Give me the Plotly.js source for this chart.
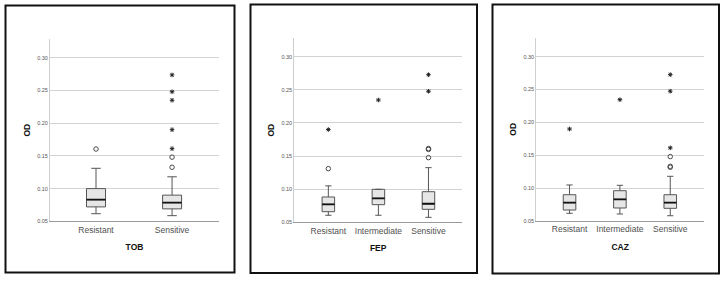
<!DOCTYPE html>
<html>
<head>
<meta charset="utf-8">
<script src="https://cdn.plot.ly/plotly-3.0.1.min.js"></script>
<style>html,body{margin:0;padding:0;background:#fff;}#chart{width:724px;height:282px;}</style>
</head>
<body>
<div id="chart"></div>
<script>
// ---------- DATA ----------
const tobCats = ['Resistant', 'Sensitive'];
const tobQ1 = [0.072, 0.069];
const tobMedian = [0.083, 0.0785];
const tobQ3 = [0.100, 0.090];
const tobLow = [0.0616, 0.0586];
const tobHigh = [0.131, 0.118];
const tobCircleX = ['Resistant', 'Sensitive', 'Sensitive'];
const tobCircleY = [0.1605, 0.1326, 0.148];
const tobStarX = ['Sensitive', 'Sensitive', 'Sensitive', 'Sensitive', 'Sensitive'];
const tobStarY = [0.161, 0.190, 0.235, 0.248, 0.2737];

const fepCats = ['Resistant', 'Intermediate', 'Sensitive'];
const fepQ1 = [0.066, 0.0766, 0.0696];
const fepMedian = [0.0772, 0.0862, 0.078];
const fepQ3 = [0.0882, 0.0998, 0.0962];
const fepLow = [0.0606, 0.0606, 0.0575];
const fepHigh = [0.105, 0.0998, 0.1325];
const fepCircleX = ['Resistant', 'Sensitive', 'Sensitive', 'Sensitive'];
const fepCircleY = [0.131, 0.1476, 0.1600, 0.1614];
const fepStarX = ['Resistant', 'Intermediate', 'Sensitive', 'Sensitive'];
const fepStarY = [0.190, 0.2346, 0.2478, 0.2728];

const cazCats = ['Resistant', 'Intermediate', 'Sensitive'];
const cazQ1 = [0.0667, 0.0698, 0.0693];
const cazMedian = [0.0779, 0.083, 0.0779];
const cazQ3 = [0.090, 0.0961, 0.090];
const cazLow = [0.0617, 0.0607, 0.058];
const cazHigh = [0.1048, 0.1043, 0.118];
const cazCircleX = ['Sensitive', 'Sensitive', 'Sensitive'];
const cazCircleY = [0.1318, 0.1332, 0.148];
const cazStarX = ['Resistant', 'Intermediate', 'Sensitive', 'Sensitive', 'Sensitive'];
const cazStarY = [0.190, 0.2346, 0.1613, 0.2475, 0.2727];

const panelTitles = ['TOB', 'FEP', 'CAZ'];
const yTitle = 'OD';
const yTickVals = [0.05, 0.10, 0.15, 0.20, 0.25, 0.30];

// ---------- BUILD ----------
const W = 724, H = 282;
const panels = [
  {cats: tobCats, q1: tobQ1, med: tobMedian, q3: tobQ3, lo: tobLow, hi: tobHigh,
   cx: tobCircleX, cy: tobCircleY, sx: tobStarX, sy: tobStarY,
   px: [50, 219], py: [39, 221.3], xr: [-0.605, 1.617], yTop: 0.3286,
   border: [5.5, 234.5, 5.5, 272.5]},
  {cats: fepCats, q1: fepQ1, med: fepMedian, q3: fepQ3, lo: fepLow, hi: fepHigh,
   cx: fepCircleX, cy: fepCircleY, sx: fepStarX, sy: fepStarY,
   px: [294.3, 462], py: [38, 222.3], xr: [-0.68, 2.67], yTop: 0.3282,
   border: [250.5, 477, 4.5, 273]},
  {cats: cazCats, q1: cazQ1, med: cazMedian, q3: cazQ3, lo: cazLow, hi: cazHigh,
   cx: cazCircleX, cy: cazCircleY, sx: cazStarX, sy: cazStarY,
   px: [536.3, 704], py: [37.7, 221], xr: [-0.66, 2.67], yTop: 0.3289,
   border: [492.5, 719, 4.5, 273.5]}
];

const FONT = 'Liberation Sans, Arial, sans-serif';
const traces = [];
const layout = {
  width: W, height: H,
  margin: {l: 0, r: 0, t: 0, b: 0},
  paper_bgcolor: '#ffffff', plot_bgcolor: '#ffffff',
  showlegend: false,
  boxmode: 'overlay',
  font: {family: FONT, color: '#444'},
  shapes: [],
  annotations: []
};

panels.forEach((p, i) => {
  const n = i === 0 ? '' : String(i + 1);
  const xa = 'x' + n, ya = 'y' + n;
  traces.push({
    type: 'box', xaxis: xa, yaxis: ya, x: p.cats,
    q1: p.q1, median: p.med, q3: p.q3, lowerfence: p.lo, upperfence: p.hi,
    boxpoints: false, width: 0.25, whiskerwidth: 0.5,
    fillcolor: '#e6e6e6', line: {color: '#555', width: 1}, hoverinfo: 'skip'
  });
  // thicker median line
  traces.push({
    type: 'box', xaxis: xa, yaxis: ya, x: p.cats,
    q1: p.med, median: p.med, q3: p.med, lowerfence: p.med, upperfence: p.med,
    boxpoints: false, width: 0.25, whiskerwidth: 0,
    fillcolor: 'rgba(0,0,0,0)', line: {color: '#111', width: 1.8}, hoverinfo: 'skip'
  });
  traces.push({
    type: 'scatter', mode: 'markers', xaxis: xa, yaxis: ya, x: p.cx, y: p.cy,
    marker: {symbol: 'circle-open', size: 4.5, color: '#4a4a4a', line: {width: 1, color: '#4a4a4a'}},
    hoverinfo: 'skip'
  });
  traces.push({
    type: 'scatter', mode: 'markers', xaxis: xa, yaxis: ya, x: p.sx, y: p.sy,
    marker: {symbol: 'asterisk-open', size: 3.8, color: '#222', line: {width: 1, color: '#222'}},
    hoverinfo: 'skip'
  });

  layout['xaxis' + n] = {
    domain: [p.px[0] / W, p.px[1] / W], anchor: ya,
    type: 'category', categoryorder: 'array', categoryarray: p.cats,
    range: p.xr, showline: true, linecolor: '#9a9a9a', linewidth: 1,
    ticks: '', showgrid: false, zeroline: false,
    tickfont: {family: FONT, size: 8.5, color: '#505050'},
    title: {text: panelTitles[i], font: {family: FONT, size: 8.5, color: '#111', weight: 'bold'}, standoff: 10},
    fixedrange: true
  };
  layout['yaxis' + n] = {
    domain: [(H - p.py[1]) / H, (H - p.py[0]) / H], anchor: xa,
    range: [0.05, p.yTop], tickvals: yTickVals, tickformat: '.2f',
    showline: true, linecolor: '#cfcfcf', linewidth: 1,
    showgrid: true, gridcolor: '#d3d3d3', gridwidth: 1, zeroline: false,
    ticks: '', tickfont: {family: FONT, size: 5.5, color: '#555'},
    title: {text: yTitle, font: {family: FONT, size: 8.5, color: '#111', weight: 'bold'}, standoff: 5},
    fixedrange: true
  };
  const b = p.border;
  layout.shapes.push({
    type: 'rect', xref: 'paper', yref: 'paper',
    x0: b[0] / W, x1: b[1] / W, y0: (H - b[3]) / H, y1: (H - b[2]) / H,
    line: {color: '#111', width: 2}, fillcolor: 'rgba(0,0,0,0)', layer: 'above'
  });
});

Plotly.newPlot('chart', traces, layout, {displayModeBar: false, staticPlot: true});
</script>
</body>
</html>
